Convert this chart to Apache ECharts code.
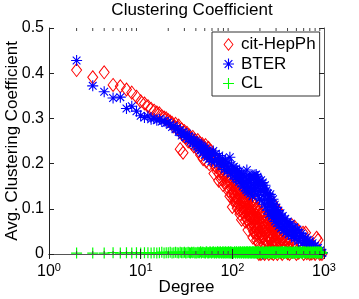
<!DOCTYPE html>
<html><head><meta charset="utf-8">
<script src="https://cdn.jsdelivr.net/npm/echarts@6/dist/echarts.min.js"></script>
<style>html,body{margin:0;padding:0;background:#fff}#c{width:359px;height:299px}</style>
</head><body><div id="c"></div>
<script>
const titleText = 'Clustering Coefficient';
const xName = 'Degree';
const yName = 'Avg. Clustering Coefficient';
const seriesNames = ['cit-HepPh', 'BTER', 'CL'];
const xTickExponents = [0, 1, 2, 3];
const yTickLabels = ['0', '0.1', '0.2', '0.3', '0.4', '0.5'];
const minorTickDegrees = [2,3,4,5,6,7,8,9,20,30,40,50,60,70,80,90,200,300,400,500,600,700,800,900];

// [degree, avg clustering coefficient]
const citHepPh = [
[2,.407],[3,.391],[4,.402],[5,.374],[6,.371],[7,.364],[8,.357],[9,.348],[10,.338],[11,.333],[12,.327],[13,.321],[14,.317],[15,.313],[16,.311],[17,.305],[18,.302],[19,.300],[20,.296],
[21,.293],[22,.290],[23,.282],[24,.288],[25,.279],[26,.284],[27,.232],[27,.270],[28,.276],[29,.224],[29,.262],[30,.272],[31,.258],[32,.268],[33,.249],[34,.262],[35,.255],[36,.244],[37,.259],[38,.238],[39,.252],[40,.246],
[41,.241],[42,.252],[43,.228],[44,.246],[45,.219],[46,.238],[47,.243],[48,.210],[49,.236],[50,.226],[51,.241],[52,.205],[53,.229],[54,.222],[55,.235],[56,.199],[57,.219],[58,.228],[59,.209],[60,.221],
[62,.214],[63,.178],[64,.196],[66,.208],[67,.192],[68,.183],[70,.201],[71,.162],[72,.177],[74,.195],[75,.182],[76,.165],[78,.188],[79,.153],[80,.172],[82,.190],[83,.176],[84,.158],[86,.178],[87,.160],[88,.149],[90,.171],[91,.139],[92,.162],[94,.128],[95,.155],[96,.168],[98,.145],[99,.131],[100,.104],
[102,.152],[104,.131],[106,.145],[108,.118],[110,.139],[112,.124],[114,.148],[116,.109],[118,.133],[120,.097],[122,.127],[124,.114],[126,.076],[128,.121],[130,.102],[132,.129],[134,.091],[136,.116],[138,.084],[140,.108],[142,.121],[144,.077],[146,.099],[148,.053],[150,.107],[152,.086],[153,.131],[154,.095],[156,.066],[158,.102],[160,.079],[162,.058],[163,.118],[164,.091],[166,.070],[168,.036],[170,.084],[172,.062],[173,.112],[174,.075],[176,.048],[178,.081],[180,.055],[182,.068],[183,.101],[184,.031],[186,.072],[188,.044],[190,.060],[192,.025],[193,.094],[194,.066],[196,.039],[198,.052],[200,.018],
[101,.138],[103,.119],[105,.160],[107,.128],[109,.110],[111,.150],[113,.101],[115,.135],[117,.122],[119,.144],[121,.088],[123,.138],[125,.105],[127,.131],[129,.094],[131,.117],[133,.140],[135,.103],[137,.126],[139,.072],[141,.097],[143,.132],[145,.088],[147,.114],[149,.127],[151,.070],[155,.112],[157,.083],[159,.124],[161,.094],[165,.103],[167,.081],[169,.110],[171,.049],[175,.092],[177,.067],[179,.099],[181,.041],[185,.085],[187,.057],[189,.079],[191,.101],[195,.047],[197,.088],[199,.063],
[203,.048],[206,.071],[209,.012],[212,.057],[215,.035],[218,.083],[221,.022],[224,.061],[227,.004],[230,.046],[233,.074],[236,.029],[239,.052],[242,.008],[245,.066],[248,.038],[251,.017],[254,.059],[257,.031],[260,.072],[263,.045],[266,.003],[269,.055],[272,.024],[275,.113],[278,.041],[281,.067],[284,.014],[287,.049],[290,.033],[293,.060],[296,.006],[299,.042],[302,.026],[305,.098],[308,.051],[312,.019],[316,.096],[320,.037],[324,.011],[328,.047],[332,.028],[336,.056],[340,.004],[344,.034],[348,.045],[352,.016],[356,.039],[360,.025],[365,.050],[370,.008],[375,.032],[380,.043],[385,.014],[390,.027],[395,.036],[400,.002],
[204,.089],[208,.064],[211,.038],[214,.095],[217,.052],[220,.070],[223,.087],[226,.043],[229,.063],[232,.016],[235,.082],[238,.050],[241,.069],[244,.027],[247,.078],[250,.055],[253,.040],[256,.081],[259,.010],[262,.064],[265,.034],[268,.074],[271,.047],[274,.060],[277,.018],[280,.052],[283,.085],[286,.030],[289,.070],[292,.044],[295,.078],[298,.021],
[410,.021],[420,.012],[430,.030],[445,.064],[450,.005],[460,.018],[470,.026],[480,.060],[490,.010],[500,.022],[520,.053],[530,.003],[545,.015],[560,.024],[575,.007],[590,.047],[610,.013],[630,.047],[650,.002],[670,.019],[690,.009],[710,.014],[735,.001],[760,.011],[790,.004],[830,.036],[860,.031],[890,.006],[920,.002],[950,0],
[195,0],[205,0],[225,0],[250,0],[280,0],[310,0],[350,0],[420,0],[500,0],[600,0],[700,0],[800,0],[900,0]
];

const bter = [
[2,.428],[3,.372],[4,.359],[5,.345],[6,.347],[7,.322],[8,.327],[9,.316],
[10,.306],[11,.302],[12,.305],[13,.298],[14,.300],[15,.296],[16,.298],[17,.293],[18,.295],[19,.290],[20,.291],
[21,.286],[22,.281],[23,.284],[24,.276],[25,.279],[26,.270],[27,.274],[28,.262],[29,.270],[30,.265],[31,.258],[32,.266],[33,.255],[34,.260],[35,.249],[36,.257],[37,.246],[38,.252],[39,.241],[40,.249],
[41,.238],[42,.246],[43,.233],[44,.243],[45,.229],[46,.240],[47,.224],[48,.236],[49,.231],[50,.219],[51,.234],[52,.225],[53,.214],[54,.229],[55,.221],[56,.210],[57,.226],[58,.217],[59,.205],[60,.222],
[62,.228],[64,.205],[66,.222],[68,.210],[70,.199],[72,.218],[74,.206],[76,.194],[78,.212],[80,.200],[82,.187],[84,.208],[86,.195],[88,.182],[90,.203],[92,.190],[94,.214],[96,.178],[98,.197],[100,.185],
[102,.172],[104,.193],[106,.181],[108,.168],[110,.189],[112,.165],[114,.184],[116,.174],[118,.160],[120,.183],[122,.169],[124,.156],[126,.178],[128,.163],[130,.150],[132,.175],[134,.158],[136,.146],[138,.171],[140,.160],[142,.141],[144,.186],[146,.153],[148,.137],[150,.166],[152,.147],[154,.170],[156,.133],[158,.158],[160,.172],[162,.142],[164,.165],[166,.128],[168,.174],[170,.152],[172,.168],[174,.139],[176,.175],[178,.158],[180,.145],[182,.176],[184,.162],[186,.131],[188,.171],[190,.150],[192,.166],[194,.138],[196,.160],[198,.122],[200,.154],
[203,.141],[206,.163],[209,.118],[212,.150],[215,.158],[218,.129],[221,.145],[224,.110],[227,.152],[230,.136],[233,.104],[236,.141],[239,.121],[242,.097],[245,.134],[248,.115],[251,.088],[254,.128],[257,.106],[260,.132],[263,.094],[266,.118],[269,.083],[272,.112],[275,.098],[278,.121],[281,.079],[284,.104],[287,.090],[290,.109],[293,.072],[296,.099],[299,.085],[302,.103],[306,.068],[310,.093],[314,.077],[318,.096],[322,.062],[326,.086],[330,.073],[335,.090],[340,.057],[345,.081],[350,.066],[355,.084],[360,.052],[366,.075],[372,.061],[378,.078],[384,.047],[390,.069],[396,.055],[402,.072],
[410,.043],[418,.064],[426,.050],[434,.067],[442,.039],[450,.058],[460,.046],[470,.060],[480,.034],[490,.052],[500,.041],[512,.054],[525,.029],[538,.047],[550,.036],[565,.045],[580,.024],[595,.039],[610,.030],[628,.036],[645,.019],[665,.031],[685,.023],[705,.028],[725,.013],[750,.024],[775,.016],[800,.019],[830,.008],[860,.014],[890,.005],[920,.009],[950,.002],
[215,0],[960,.003]
];

const cl = [
[2,.002],[3,.002],[4,.002],[5,.003],[6,.002],[7,.003],[8,.002],[9,.003],[10,.002],[11,.003],[12,.003],[13,.002],[14,.003],[15,.002],[16,.003],[17,.004],[18,.002],[19,.003],[20,.003],[21,.004],[22,.002],[23,.003],[24,.004],[25,.003],[26,.002],[27,.004],[28,.003],[29,.003],[30,.004],[31,.002],[32,.003],[33,.004],[34,.003],[35,.002],[36,.004],[37,.003],[38,.004],[39,.002],[40,.003],
[41,.002],[42,.004],[43,.003],[44,.003],[45,.005],[46,.002],[47,.004],[48,.004],[49,.003],[50,.003],[51,.002],[52,.005],[53,.004],[54,.002],[55,.003],[56,.003],[57,.005],[58,.004],[59,.002],[60,.003],[61,.004],[62,.005],[63,.003],[64,.002],[65,.004],[66,.004],[67,.002],[68,.003],[69,.005],[70,.004],[71,.003],[72,.002],[73,.004],[74,.005],[75,.003],[76,.003],[77,.002],[78,.004],[79,.005],[80,.002],[81,.004],[82,.003],[83,.003],[84,.005],[85,.002],[86,.003],[87,.004],[88,.004],[89,.003],[90,.002],[91,.005],[92,.004],[93,.003],[94,.003],[95,.002],[96,.005],[97,.004],[98,.002],[99,.003],[100,.004],
[102,.002],[103,.003],[105,.004],[106,.005],[108,.003],[109,.002],[111,.005],[112,.004],[114,.002],[115,.003],[117,.004],[118,.005],[120,.003],[121,.002],[123,.005],[124,.004],[126,.002],[127,.003],[129,.004],[130,.005],[132,.003],[133,.002],[135,.005],[136,.004],[138,.002],[139,.003],[141,.004],[142,.005],[144,.003],[145,.002],[147,.005],[148,.004],[150,.002],[151,.003],[153,.004],[154,.005],[156,.003],[157,.002],[159,.005],[160,.004],[162,.002],[163,.003],[165,.004],[166,.005],[168,.003],[169,.002],[171,.005],[172,.004],[174,.002],[175,.003],[177,.004],[178,.005],[180,.003],[181,.002],[183,.005],[184,.004],[186,.002],[187,.003],[189,.004],[190,.005],[192,.003],[193,.002],[195,.005],[196,.004],[198,.002],[199,.003],
[202,.004],[205,.004],[207,.003],[210,.002],[212,.005],[215,.005],[217,.002],[220,.003],[222,.004],[225,.004],[227,.003],[230,.001],[232,.005],[235,.005],[237,.002],[240,.003],[242,.004],[245,.004],[247,.003],[250,.002],[252,.005],[255,.005],[257,.002],[260,.003],[262,.004],[265,.004],[267,.003],[270,.002],[272,.005],[275,.005],[277,.002],[280,.003],[282,.004],[285,.004],[287,.003],[290,.001],[292,.005],[295,.005],[297,.002],[300,.003],
[304,.004],[308,.002],[312,.005],[316,.003],[320,.004],[324,.002],[328,.005],[332,.003],[336,.004],[340,.003],[344,.005],[348,.002],[352,.004],[356,.005],[360,.003],[364,.004],[368,.001],[372,.005],[376,.003],[380,.004],[384,.002],[388,.005],[392,.003],[396,.004],[400,.003],
[406,.004],[412,.002],[418,.005],[424,.003],[430,.005],[436,.003],[442,.004],[448,.002],[454,.004],[460,.001],[466,.005],[472,.003],[478,.004],[484,.002],[490,.004],[496,.005],[503,.002],[510,.005],[517,.003],[524,.003],[531,.004],[538,.002],[545,.005],[552,.005],[559,.003],[566,.003],[573,.004],[580,.001],[588,.005],[596,.005],[604,.003],[612,.004],[620,.002],[628,.005],[636,.003],[644,.003],[652,.004],[660,.002],[668,.005],[676,.004],[684,.003],[692,.004],[700,.001],[710,.005],[720,.003],[730,.004],[740,.002],[750,.005],[760,.003],[770,.004],[780,.002],[790,.005],[800,.003],[810,.004],[820,.002],[830,.005],[840,.003],[850,.004],[860,.001],[870,.005],[880,.003],[890,.004],[900,.002],[910,.005],[920,.003],[930,.004],[940,.002],[950,.003]
];

const F = '"Liberation Sans", Arial, Helvetica, sans-serif';
const chart = echarts.init(document.getElementById('c'), null, {renderer: 'canvas'});
const asteriskPath = 'path://M0,5L10,5M5,0L5,10M1.5,1.5L8.5,8.5M1.5,8.5L8.5,1.5';
const plusPath = 'path://M0,5L10,5M5,0L5,10';
// filled outlines for the legend icons
const asteriskIcon = 'path://M4.5,0H5.5V4.5H10V5.5H5.5V10H4.5V5.5H0V4.5H4.5ZM1.1,1.9L1.9,1.1L8.9,8.1L8.1,8.9ZM8.1,1.1L8.9,1.9L1.9,8.9L1.1,8.1Z';
const plusIcon = 'path://M4.5,0H5.5V4.5H10V5.5H5.5V10H4.5V5.5H0V4.5H4.5Z';
const diamondIcon = 'path://M5,0L10,6.5L5,13L0,6.5ZM5,1.4L1.1,6.5L5,11.6L8.9,6.5Z';
const RED = '#ff0000', BLUE = '#0000ff', GREEN = '#00ff00';

function xLabel(v) {
  const e = Math.round(Math.log10(v));
  if (xTickExponents.indexOf(e) < 0) return '';
  return '10{s|' + e + '}';
}
function yLabel(v) {
  const i = Math.round(v * 10);
  return yTickLabels[i] || '';
}

const baseX = {
  type: 'log', logBase: 10, min: 1, max: 1000,
  splitLine: {show: false},
  axisTick: {show: true, inside: true, length: 5, lineStyle: {color: '#222'}},
  z: 10
};
const baseY = {
  type: 'value', min: 0, max: 0.5, interval: 0.1,
  splitLine: {show: false},
  axisTick: {show: true, inside: true, length: 5, lineStyle: {color: '#222'}},
  z: 10
};

chart.setOption({
  animation: false,
  backgroundColor: '#fff',
  textStyle: {fontFamily: F},
  title: {
    text: titleText, left: 187, textAlign: 'center', top: -3,
    textStyle: {fontSize: 17, fontWeight: 'normal', color: '#000', fontFamily: F}
  },
  legend: {
    left: 212, top: 32, orient: 'vertical',
    padding: [4, 4, 4, 11], itemGap: 2.5, itemWidth: 11, itemHeight: 13,
    backgroundColor: '#fff', borderColor: '#333', borderWidth: 1,
    textStyle: {fontSize: 17, color: '#000', fontFamily: F, padding: [0, 0, 0, 2]},
    data: [
      {name: seriesNames[0], icon: diamondIcon, itemStyle: {color: RED, borderWidth: 0}},
      {name: seriesNames[1], icon: asteriskIcon, itemStyle: {color: BLUE, borderWidth: 0}},
      {name: seriesNames[2], icon: plusIcon, itemStyle: {color: GREEN, borderWidth: 0}}
    ]
  },
  grid: {left: 49, right: 35, top: 28, bottom: 45, outerBoundsMode: 'none', containLabel: false},
  xAxis: [
    Object.assign({}, baseX, {
      position: 'bottom', name: xName, nameLocation: 'middle', nameGap: 25, nameMoveOverlap: false,
      nameTextStyle: {fontSize: 17, color: '#000', fontFamily: F},
      axisLine: {show: true, lineStyle: {color: '#222', width: 1}},
      axisLabel: {
        formatter: xLabel, color: '#000', fontSize: 16, fontFamily: F, margin: 8,
        rich: {s: {fontSize: 11, fontFamily: F, color: '#000', verticalAlign: 'bottom', padding: [0, 0, 9, 0]}}
      }
    }),
    Object.assign({}, baseX, {
      position: 'top',
      axisLine: {show: true, lineStyle: {color: '#555', width: 1}},
      axisLabel: {show: false}
    })
  ],
  yAxis: [
    Object.assign({}, baseY, {
      position: 'left', name: yName, nameLocation: 'middle', nameGap: 28, nameMoveOverlap: false,
      nameTextStyle: {fontSize: 17, color: '#000', fontFamily: F},
      axisLine: {show: true, lineStyle: {color: '#222', width: 1}},
      axisLabel: {formatter: yLabel, color: '#000', fontSize: 16, fontFamily: F, margin: 5}
    }),
    Object.assign({}, baseY, {
      position: 'right',
      axisLine: {show: true, lineStyle: {color: '#555', width: 1}},
      axisLabel: {show: false}
    })
  ],
  series: [
    {
      name: seriesNames[0], type: 'scatter', data: citHepPh, clip: false,
      symbol: 'diamond', symbolSize: [10, 13],
      itemStyle: {color: 'rgba(255,255,255,0)', borderColor: RED, borderWidth: 1, opacity: 1}
    },
    {
      name: seriesNames[1], type: 'scatter', data: bter, clip: false,
      symbol: asteriskPath, symbolSize: 11,
      itemStyle: {color: BLUE, borderColor: BLUE, borderWidth: 1.1, opacity: 1}
    },
    {
      name: seriesNames[2], type: 'scatter', data: cl, clip: false,
      symbol: plusPath, symbolSize: 11,
      itemStyle: {color: GREEN, borderColor: GREEN, borderWidth: 1.2, opacity: 1}
    },
    {
      type: 'custom', silent: true, z: 11, clip: false,
      data: minorTickDegrees,
      renderItem: function (params, api) {
        const top = api.coord([api.value(0), 0.5]);
        const bot = api.coord([api.value(0), 0]);
        const st = {stroke: '#444', lineWidth: 1};
        return {type: 'group', children: [
          {type: 'line', shape: {x1: top[0], y1: top[1], x2: top[0], y2: top[1] + 3}, style: st},
          {type: 'line', shape: {x1: bot[0], y1: bot[1], x2: bot[0], y2: bot[1] - 3}, style: st}
        ]};
      },
      encode: {x: 0}
    }
  ]
});
</script></body></html>
